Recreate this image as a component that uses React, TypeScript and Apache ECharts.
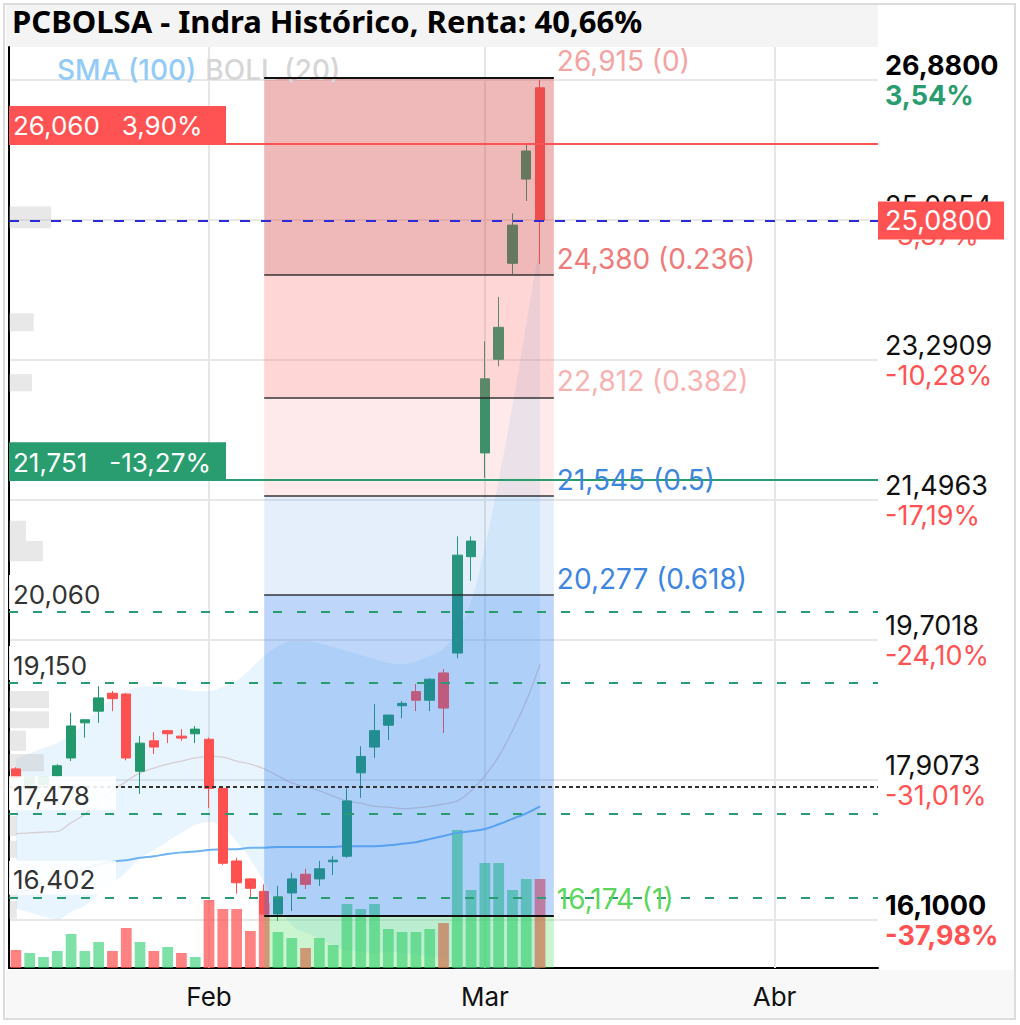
import React, { useEffect, useRef } from 'react';
import * as echarts from 'echarts';

const titleText = 'PCBOLSA - Indra Histórico, Renta: 40,66%';

const dates = [
  '2025-01-14', '2025-01-15', '2025-01-16', '2025-01-17', '2025-01-20', '2025-01-21', '2025-01-22',
  '2025-01-23', '2025-01-24', '2025-01-27', '2025-01-28', '2025-01-29', '2025-01-30', '2025-01-31',
  '2025-02-03', '2025-02-04', '2025-02-05', '2025-02-06', '2025-02-07', '2025-02-10', '2025-02-11',
  '2025-02-12', '2025-02-13', '2025-02-14', '2025-02-17', '2025-02-18', '2025-02-19', '2025-02-20',
  '2025-02-21', '2025-02-24', '2025-02-25', '2025-02-26', '2025-02-27', '2025-02-28',
  '2025-03-03', '2025-03-04', '2025-03-05', '2025-03-06', '2025-03-07', '2025-03-10', '2025-03-11',
  '2025-03-12', '2025-03-13', '2025-03-14', '2025-03-17', '2025-03-18', '2025-03-19', '2025-03-20',
  '2025-03-21', '2025-03-24', '2025-03-25', '2025-03-26', '2025-03-27', '2025-03-28', '2025-03-31',
  '2025-04-01', '2025-04-02', '2025-04-03', '2025-04-04', '2025-04-07', '2025-04-08', '2025-04-09',
  '2025-04-10',
];
const monthNames = ['Ene', 'Feb', 'Mar', 'Abr', 'May', 'Jun', 'Jul', 'Ago', 'Sep', 'Oct', 'Nov', 'Dic'];

// [open, close, low, high]
const candles = [
  [18.05, 17.94, 17.93, 18.07], [17.80, 17.942, 17.75, 17.942], [17.85, 17.944, 17.80, 17.944],
  [17.96, 18.09, 17.95, 18.11], [18.19, 18.60, 18.15, 18.77], [18.64, 18.68, 18.45, 18.68],
  [18.79, 18.96, 18.64, 19.11], [19.02, 18.95, 18.79, 19.05], [19.01, 18.19, 18.16, 19.02],
  [18.02, 18.38, 17.73, 18.47], [18.41, 18.33, 18.24, 18.52], [18.54, 18.50, 18.38, 18.55],
  [18.47, 18.445, 18.41, 18.56], [18.50, 18.56, 18.38, 18.60], [18.43, 17.80, 17.55, 18.45],
  [17.80, 16.84, 16.82, 17.81], [16.87, 16.59, 16.45, 16.91], [16.64, 16.52, 16.39, 16.65],
  [16.48, 16.19, 16.17, 16.57], [16.19, 16.41, 16.10, 16.55], [16.46, 16.64, 16.23, 16.72],
  [16.70, 16.57, 16.51, 16.77], [16.64, 16.77, 16.55, 16.87], [16.86, 16.88, 16.69, 16.93],
  [16.93, 17.64, 16.91, 17.80], [18.00, 18.21, 17.68, 18.34], [18.33, 18.54, 18.19, 18.88],
  [18.61, 18.74, 18.42, 18.74], [18.86, 18.89, 18.70, 18.92], [19.04, 18.93, 18.79, 19.14],
  [18.93, 19.20, 18.79, 19.21], [19.28, 18.83, 18.51, 19.33], [19.535, 20.79, 19.47, 21.03],
  [20.77, 20.97, 20.46, 21.03], [22.10, 23.05, 21.78, 23.53], [23.30, 23.71, 23.21, 24.10],
  [24.53, 25.02, 24.39, 25.17], [25.61, 25.97, 25.33, 26.06], [26.78, 25.08, 24.52, 26.88],
];

// volume, millions
const volumes = [
  0.72, 0.60, 0.44, 0.68, 1.36, 0.68, 1.04, 0.68, 1.60, 1.04, 0.68, 0.84, 0.60, 0.44,
  2.72, 2.36, 2.36, 1.48, 2.60, 1.44, 1.20, 0.80, 1.20, 0.92, 2.56, 2.36, 2.56, 1.56,
  1.44, 1.44, 1.56, 1.80, 5.52, 3.12, 4.20, 4.20, 3.12, 3.56, 3.56,
];

const bollUpper = [
  18.18, 18.25, 18.32, 18.38, 18.50, 18.64, 18.82, 18.96, 19.05, 19.10, 19.11, 19.10, 19.07,
  19.05, 19.05, 19.10, 19.18, 19.33, 19.50, 19.62, 19.69, 19.69, 19.66, 19.61, 19.56, 19.51,
  19.46, 19.41, 19.39, 19.43, 19.50, 19.59, 19.82, 20.20, 20.90, 21.75, 22.70, 23.75, 24.80,
];
const bollMid = [
  17.22, 17.23, 17.24, 17.25, 17.36, 17.47, 17.63, 17.77, 17.89, 18.00, 18.06, 18.11, 18.15,
  18.19, 18.21, 18.20, 18.15, 18.11, 18.05, 17.96, 17.87, 17.82, 17.77, 17.70, 17.64, 17.61,
  17.57, 17.56, 17.54, 17.55, 17.57, 17.60, 17.64, 17.77, 17.96, 18.21, 18.54, 18.92, 19.39,
];
const bollLower = [
  16.26, 16.21, 16.16, 16.12, 16.22, 16.30, 16.44, 16.58, 16.73, 16.90, 17.01, 17.12, 17.23,
  17.33, 17.37, 17.30, 17.12, 16.89, 16.60, 16.30, 16.05, 15.95, 15.88, 15.79, 15.72, 15.71,
  15.68, 15.71, 15.69, 15.67, 15.64, 15.61, 15.46, 15.34, 15.02, 14.67, 14.38, 14.09, 13.98,
];
const sma100 = [
  16.45, 16.51, 16.59, 16.65, 16.72, 16.77, 16.82, 16.86, 16.88, 16.91, 16.93, 16.96, 16.98,
  16.99, 17.01, 17.02, 17.02, 17.04, 17.04, 17.05, 17.05, 17.05, 17.05, 17.05, 17.06, 17.06,
  17.06, 17.07, 17.09, 17.11, 17.15, 17.19, 17.23, 17.25, 17.28, 17.34, 17.41, 17.48, 17.57,
];

const yMin = 15.498;
const yMax = 27.303;
const yTickValues = [16.113, 17.9075, 19.702, 21.4965, 23.291, 25.0855, 26.88];
const yTickPrices = ['16,1000', '17,9073', '19,7018', '21,4963', '23,2909', '25,0854', '26,8800'];
const yTickPcts = ['-37,98%', '-31,01%', '-24,10%', '-17,19%', '-10,28%', '-3,37%', '3,54%'];

const fibStartIdx = 18;
const fibEndIdx = 39;
const fibLevels = [26.915, 24.380, 22.812, 21.545, 20.277, 16.174];
const fibRatios = ['0', '0.236', '0.382', '0.5', '0.618', '1'];
const fibLabelColors = ['#f4a3a3', '#f07a7a', '#f8b2b2', '#3d85e0', '#3d85e0', '#5cd65c'];
const fibZoneColors = [
  'rgba(212,70,70,0.38)', 'rgba(250,95,95,0.26)', 'rgba(250,95,95,0.13)',
  'rgba(70,140,225,0.14)', 'rgba(40,120,235,0.30)', 'rgba(70,215,90,0.28)',
];

const supportLevels = [20.060, 19.150, 17.478, 16.402];
const supportLabels = ['20,060', '19,150', '17,478', '16,402'];
const alertHigh = { value: 26.06, text: '26,060   3,90%' };
const alertLow = { value: 21.751, text: '21,751   -13,27%' };
const lastPrice = { value: 25.08, text: '25,0800' };
const dottedLevel = 17.817;

// volume profile: [relative volume, price low, price high]
const profile = [
  [9.7, 24.98, 25.26], [5.7, 23.66, 23.89], [5.3, 22.89, 23.11], [3.9, 20.97, 21.23],
  [7.8, 20.71, 20.97], [9.2, 18.83, 19.05], [9.2, 18.57, 18.79], [3.9, 18.28, 18.54],
  [8.0, 18.02, 18.24], [1.8, 17.19, 17.45], [1.8, 16.91, 17.13], [1.8, 16.38, 16.61],
  [1.8, 16.13, 16.36],
];

const NUM_FONT = 'Inter';
const UP = '#22986c';
const DOWN = '#ff5050';

function buildOption() {
  const monthStartIdx = dates
    .map((d, i) => (i > 0 && d.slice(5, 7) !== dates[i - 1].slice(5, 7) ? i : -1))
    .filter((i) => i >= 0);

  const volumeData = volumes.map((v, i) => {
    const down = i === 0 ? candles[0][1] < candles[0][0] : candles[i][1] < candles[i - 1][1];
    return { value: v, itemStyle: { color: down ? 'rgba(255,82,82,0.72)' : 'rgba(40,205,110,0.6)' } };
  });

  const bandWidth = bollUpper.map((u, i) => +(u - bollLower[i]).toFixed(3));

  const fibZones = fibLevels.map((v, i) => [fibStartIdx, v, i < fibLevels.length - 1 ? fibLevels[i + 1] : yMin]);

  const nearestTick = (v: number) => {
    let best = 0;
    yTickValues.forEach((t, i) => {
      if (Math.abs(t - v) < Math.abs(yTickValues[best] - v)) best = i;
    });
    return best;
  };

  const baseLbl = { fontFamily: NUM_FONT, fontSize: 27, lineHeight: 30 };

  const supportLine = (v: number, txt: string) => ({
    yAxis: v,
    lineStyle: { color: '#2a9d70', type: [9, 15], width: 2 },
    label: {
      show: true,
      position: 'insideStartTop',
      distance: [0, 3],
      formatter: txt,
      color: '#333',
      fontFamily: NUM_FONT,
      fontSize: 26,
      lineHeight: 26,
      backgroundColor: 'rgba(255,255,255,0.9)',
      padding: [6, 0, 2, 4],
      width: 103,
    },
  });

  return {
    animation: false,
    backgroundColor: '#ffffff',
    title: {
      text: titleText,
      left: 12,
      top: 5,
      padding: 0,
      textStyle: { fontFamily: 'Noto Sans', fontSize: 31, fontWeight: 'bold', color: '#000' },
    },
    legend: {
      left: 47,
      top: 51,
      icon: 'none',
      itemWidth: 0,
      itemGap: 4,
      selectedMode: false,
      textStyle: { fontFamily: NUM_FONT, fontSize: 28, fontWeight: 500 },
      data: [
        { name: 'SMA (100)', textStyle: { color: '#92cbf8' } },
        { name: 'BOLL (20)', textStyle: { color: '#d6d6d6' } },
      ],
    },
    graphic: [
      { type: 'rect', z: -1, shape: { x: 6, y: 5, width: 872, height: 42 }, style: { fill: '#f4f4f4' } },
      { type: 'rect', z: -1, shape: { x: 6, y: 970, width: 1008, height: 48 }, style: { fill: '#f8f8f8' } },
      {
        type: 'rect', z: 50, shape: { x: 4, y: 4, width: 1011, height: 1015 },
        style: { fill: 'none', stroke: '#dcdcdc', lineWidth: 2 },
      },
    ],
    grid: { left: 9, right: 142, top: 47, bottom: 57 },
    xAxis: [
      {
        type: 'category',
        data: dates,
        boundaryGap: true,
        axisLine: { show: true, lineStyle: { color: '#000', width: 2 } },
        axisTick: { show: false },
        splitLine: { show: false },
        axisLabel: {
          interval: (i: number) => monthStartIdx.includes(i),
          formatter: (v: string) => monthNames[parseInt(v.slice(5, 7), 10) - 1],
          fontFamily: NUM_FONT,
          fontSize: 26,
          color: '#111',
          margin: 15,
        },
      },
      { type: 'value', min: 0, max: 200, show: false },
    ],
    yAxis: [
      {
        type: 'value',
        position: 'right',
        min: yMin,
        max: yMax,
        axisLine: { show: true, lineStyle: { color: '#000', width: 2 } },
        axisTick: { show: false, customValues: yTickValues },
        splitLine: { show: true, lineStyle: { color: '#e8e8e8', width: 2 } },
        axisLabel: {
          customValues: yTickValues,
          margin: 7,
          formatter: (v: number) => {
            const i = nearestTick(v);
            const bold = i === 0 || i === yTickValues.length - 1;
            const neg = yTickPcts[i].startsWith('-');
            const ps = bold ? 'pb' : 'p';
            const cs = (neg ? 'r' : 'g') + (bold ? 'b' : '');
            return `{${ps}|${yTickPrices[i]}}\n{${cs}|${yTickPcts[i]}}`;
          },
          rich: {
            p: { ...baseLbl, color: '#111' },
            pb: { ...baseLbl, color: '#000', fontWeight: 'bold' },
            r: { ...baseLbl, color: '#ff5252' },
            rb: { ...baseLbl, color: '#ff5252', fontWeight: 'bold' },
            g: { ...baseLbl, color: '#2a9d70' },
            gb: { ...baseLbl, color: '#2a9d70', fontWeight: 'bold' },
          },
        },
      },
      { type: 'value', min: 0, max: 36.84, show: false },
    ],
    series: [
      {
        name: 'bollLower', type: 'line', stack: 'boll', data: bollLower, symbol: 'none', smooth: 0.4,
        lineStyle: { opacity: 0 }, z: 1, silent: true,
      },
      {
        name: 'bollBand', type: 'line', stack: 'boll', data: bandWidth, symbol: 'none', smooth: 0.4,
        lineStyle: { opacity: 0 }, areaStyle: { color: 'rgba(144,202,249,0.28)' }, z: 1, silent: true,
      },
      {
        name: 'BOLL (20)', type: 'line', data: bollMid, symbol: 'none', smooth: 0.4, z: 1, silent: true,
        lineStyle: { color: 'rgba(200,180,180,0.6)', width: 1.3 },
        itemStyle: { color: '#d6d6d6' },
        markLine: {
          symbol: 'none', silent: true, z: 1,
          label: { show: false },
          lineStyle: { color: '#e6e6e6', width: 2, type: 'solid' },
          data: monthStartIdx.map((i) => ({ xAxis: dates[i] })),
        },
      },
      {
        name: 'SMA (100)', type: 'line', data: sma100, symbol: 'none', smooth: 0.4, z: 1, silent: true,
        lineStyle: { color: '#6db3f2', width: 2 },
        itemStyle: { color: '#92cbf8' },
      },
      {
        name: 'volume', type: 'bar', xAxisIndex: 0, yAxisIndex: 1, data: volumeData, barWidth: '78%', z: 1, silent: true,
      },
      {
        name: 'profile', type: 'custom', xAxisIndex: 1, yAxisIndex: 0, data: profile, z: 1, silent: true,
        encode: { x: 0, y: [1, 2] },
        renderItem: (params: any, api: any) => {
          const p0 = api.coord([0, api.value(2)]);
          const p1 = api.coord([api.value(0), api.value(1)]);
          return {
            type: 'rect',
            shape: { x: p0[0], y: p0[1], width: p1[0] - p0[0], height: p1[1] - p0[1] },
            style: { fill: 'rgba(185,185,185,0.32)' },
          };
        },
      },
      {
        name: 'price', type: 'candlestick', data: candles, barWidth: '72%', z: 2, silent: true,
        itemStyle: { color: UP, color0: DOWN, borderColor: UP, borderColor0: DOWN, borderWidth: 1 },
        markLine: {
          symbol: 'none', silent: true, z: 5,
          data: [
            {
              yAxis: dottedLevel,
              lineStyle: { color: '#333', type: [4, 3], width: 2 },
              label: { show: false },
            },
            ...supportLevels.map((v, i) => supportLine(v, supportLabels[i])),
            {
              yAxis: alertHigh.value,
              lineStyle: { color: '#ff5252', type: 'solid', width: 2 },
              label: {
                show: true, position: 'insideStartTop', distance: [0, 0], formatter: alertHigh.text,
                color: '#fff', backgroundColor: '#ff5252', fontFamily: NUM_FONT, fontSize: 26,
                lineHeight: 28, padding: [6, 8, 4, 4], width: 205,
              },
            },
            {
              yAxis: alertLow.value,
              lineStyle: { color: '#2a9d70', type: 'solid', width: 2 },
              label: {
                show: true, position: 'insideStartTop', distance: [0, 0], formatter: alertLow.text,
                color: '#fff', backgroundColor: '#2a9d70', fontFamily: NUM_FONT, fontSize: 26,
                lineHeight: 28, padding: [6, 8, 4, 4], width: 205,
              },
            },
            {
              yAxis: lastPrice.value,
              lineStyle: { color: '#2b2bd8', type: [10, 11], width: 2 },
              label: {
                show: true, position: 'end', distance: 0, formatter: lastPrice.text,
                color: '#fff', backgroundColor: '#ff5252', fontFamily: NUM_FONT, fontSize: 27,
                lineHeight: 24, padding: [7, 12, 7, 7],
              },
            },
          ],
        },
      },
      {
        name: 'fibZones', type: 'custom', data: fibZones, z: 3, silent: true,
        encode: { x: 0, y: [1, 2] },
        renderItem: (params: any, api: any) => {
          const p0 = api.coord([fibStartIdx, api.value(1)]);
          const p1 = api.coord([fibEndIdx, api.value(2)]);
          return {
            type: 'rect',
            shape: { x: p0[0], y: p0[1], width: p1[0] - p0[0], height: p1[1] - p0[1] },
            style: { fill: fibZoneColors[params.dataIndex] },
          };
        },
        markLine: {
          symbol: 'none', silent: true, z: 5,
          label: { show: false },
          data: fibLevels.map((v, i) => [
            {
              coord: [fibStartIdx, v],
              lineStyle: {
                color: i === 0 || i === fibLevels.length - 1 ? '#111' : 'rgba(40,40,40,0.7)',
                width: 2, type: 'solid',
              },
            },
            { coord: [fibEndIdx, v] },
          ]),
        },
      },
      {
        name: 'fibLabels', type: 'scatter', symbolSize: 0, z: 6, silent: true,
        itemStyle: { opacity: 1 },
        data: fibLevels.map((v, i) => ({
          value: [fibEndIdx, v],
          label: {
            color: fibLabelColors[i],
            formatter: `${v.toFixed(3).replace('.', ',')} (${fibRatios[i]})`,
          },
        })),
        label: {
          show: true, position: 'right', distance: 3, offset: [0, -16],
          fontFamily: NUM_FONT, fontSize: 28, opacity: 1,
        },
      },
    ],
  };
}

export default function App() {
  const ref = useRef<HTMLDivElement>(null);
  useEffect(() => {
    if (!ref.current) return;
    const chart = echarts.init(ref.current, null, { renderer: 'svg' });
    chart.setOption(buildOption() as any);
    return () => chart.dispose();
  }, []);
  return (
    <div
      ref={ref}
      style={{ position: 'fixed', left: 0, top: 0, width: 1020, height: 1025, background: '#fff' }}
    />
  );
}
